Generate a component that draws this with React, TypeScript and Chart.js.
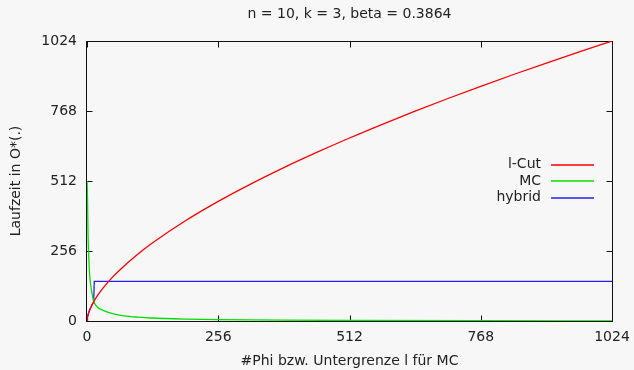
import React, { useEffect, useRef } from "react";
import { Chart, registerables } from "chart.js";

Chart.register(...registerables);

const TITLE = "n = 10, k = 3, beta = 0.3864";
const X_LABEL = "#Phi bzw. Untergrenze l für MC";
const Y_LABEL = "Laufzeit in O*(.)";
const TICKS = [0, 256, 512, 768, 1024];

const SERIES_NAMES = ["l-Cut", "MC", "hybrid"];
const SERIES_COLORS = ["#ff0000", "#00e000", "#2020f0"];

const lcutX = [0, 1, 2, 5, 9, 13, 20, 32, 48, 64, 96, 128, 192, 256, 320, 384, 448, 512, 576, 640, 704, 768, 832, 896, 960, 1024];
const lcutY = [0, 14.6, 22.3, 39.1, 56, 70, 91.5, 122, 156.6, 186.8, 239.6, 285.9, 366.6, 437.4, 501.6, 561, 616.5, 669.3, 719.4, 767.5, 813.7, 858.3, 901.5, 943.4, 984.3, 1024];

const mcX = [0, 0.5, 1, 1.5, 2, 3, 4.5, 6, 7.8, 10, 13, 17, 22, 33.7, 50, 72.7, 100, 125, 192, 256, 384, 512, 768, 1024];
const mcY = [512, 490, 450, 380, 320, 255, 190, 150, 124, 98, 72, 58, 48, 37, 27, 19, 14, 11, 7, 5, 3, 2, 1, 0.5];

const hybridX = [0, 1, 2, 5, 9, 13, 14.2, 1024];
const hybridY = [0, 14.6, 22.3, 39.1, 56, 70, 145, 145];

const FONT = "'DejaVu Sans', sans-serif";
const FS = 14;

const pts = (xs: number[], ys: number[]) => xs.map((x, i) => ({ x, y: ys[i] }));

const framePlugin = {
  id: "frameAndLegend",
  beforeDraw(chart: any) {
    const ctx = chart.ctx;
    ctx.save();
    ctx.fillStyle = "#f7f7f7";
    ctx.fillRect(0, 0, chart.width, chart.height);
    ctx.restore();
  },
  beforeDatasetsDraw(chart: any) {
    const ctx = chart.ctx;
    const a = chart.chartArea;
    const xs = chart.scales.x;
    const ys = chart.scales.y;
    ctx.save();
    ctx.strokeStyle = "#111";
    ctx.lineWidth = 1;
    const L = Math.round(a.left) - 0.5;
    const R = Math.round(a.right) + 0.5;
    const T = Math.round(a.top) + 0.5;
    const B = Math.round(a.bottom) + 0.5;
    ctx.strokeRect(L, T, R - L, B - T);
    const tl = 6;
    ctx.beginPath();
    TICKS.forEach((v) => {
      const px = Math.round(xs.getPixelForValue(v)) + 0.5;
      ctx.moveTo(px, B);
      ctx.lineTo(px, B - tl);
      ctx.moveTo(px, T);
      ctx.lineTo(px, T + tl);
      const py = Math.round(ys.getPixelForValue(v)) + 0.5;
      ctx.moveTo(L, py);
      ctx.lineTo(L + tl, py);
      ctx.moveTo(R, py);
      ctx.lineTo(R - tl, py);
    });
    ctx.stroke();
    ctx.restore();
  },
  afterDatasetsDraw(chart: any) {
    const ctx = chart.ctx;
    ctx.save();
    ctx.font = FS + "px " + FONT;
    ctx.textAlign = "right";
    ctx.textBaseline = "middle";
    const rows = [164.5, 181, 197.5];
    SERIES_NAMES.forEach((name, i) => {
      const y = rows[i];
      ctx.fillStyle = "#222";
      ctx.fillText(name, 541, y);
      ctx.strokeStyle = SERIES_COLORS[i];
      ctx.lineWidth = 1.3;
      ctx.beginPath();
      ctx.moveTo(551, Math.round(y));
      ctx.lineTo(594, Math.round(y));
      ctx.stroke();
    });
    ctx.restore();
  },
};

export default function App() {
  const ref = useRef<HTMLCanvasElement | null>(null);
  useEffect(() => {
    if (!ref.current) return;
    const chart = new Chart(ref.current, {
      type: "line",
      data: {
        datasets: [
          { label: SERIES_NAMES[0], data: pts(lcutX, lcutY), borderColor: SERIES_COLORS[0], borderWidth: 1.3, pointRadius: 0, cubicInterpolationMode: "monotone" },
          { label: SERIES_NAMES[1], data: pts(mcX, mcY), borderColor: SERIES_COLORS[1], borderWidth: 1.3, pointRadius: 0, cubicInterpolationMode: "monotone" },
          { label: SERIES_NAMES[2], data: pts(hybridX, hybridY), borderColor: SERIES_COLORS[2], borderWidth: 1.3, pointRadius: 0, tension: 0 },
        ],
      } as any,
      options: {
        animation: false,
        responsive: false,
        events: [],
        layout: { padding: { top: 0, right: 22, left: 0, bottom: 0 } },
        plugins: {
          legend: { display: false },
          tooltip: { enabled: false },
          title: {
            display: true,
            text: TITLE,
            fullSize: false,
            color: "#222",
            font: { family: FONT, size: FS, weight: "normal" },
            padding: { top: 6, bottom: 18.2 },
          } as any,
        },
        scales: {
          x: {
            type: "linear",
            min: 0,
            max: 1024,
            border: { display: false },
            grid: { display: false, drawTicks: false },
            ticks: { stepSize: 256, padding: 8, color: "#222", font: { family: FONT, size: FS }, maxRotation: 0, callback: (v: any) => String(v) },
            title: { display: true, text: X_LABEL, color: "#222", font: { family: FONT, size: FS }, padding: { top: 0, bottom: 0.6 } },
            afterFit: (s: any) => { s.height = 49; s.paddingLeft = 0; s.paddingRight = 0; },
          },
          y: {
            type: "linear",
            min: 0,
            max: 1024,
            border: { display: false },
            grid: { display: false, drawTicks: false },
            ticks: { stepSize: 256, padding: 10, color: "#222", font: { family: FONT, size: FS }, callback: (v: any) => String(v) },
            title: { display: true, text: Y_LABEL, color: "#222", font: { family: FONT, size: FS }, padding: { top: 7.6, bottom: 0 } },
            afterFit: (s: any) => { s.width = 87; s.paddingTop = 0; s.paddingBottom = 0; },
          },
        },
      } as any,
      plugins: [framePlugin],
    });
    return () => chart.destroy();
  }, []);
  return (
    <div style={{ position: "absolute", left: 0, top: 0, width: 634, height: 370 }}>
      <canvas ref={ref} width={634} height={370} style={{ display: "block", width: 634, height: 370 }} />
    </div>
  );
}
